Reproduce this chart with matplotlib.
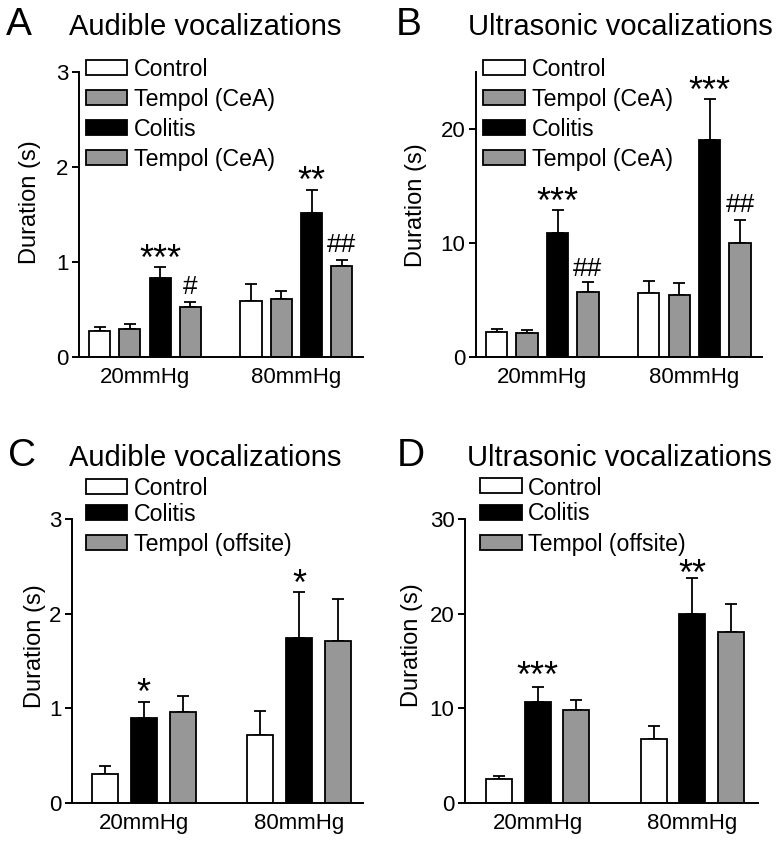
import matplotlib
matplotlib.use("Agg")
import matplotlib.pyplot as plt
from matplotlib.patches import Rectangle
import numpy as np

plt.rcParams['font.family'] = ['Liberation Sans', 'DejaVu Sans']

W, H = 779, 843
GRAY = '#979797'

groups = ['20mmHg', '80mmHg']

# Panel A: audible, CeA tempol
a_labels = ['Control', 'Tempol (CeA)', 'Colitis', 'Tempol (CeA)']
a_control = [0.27, 0.59]
a_tempol = [0.29, 0.61]
a_colitis = [0.83, 1.52]
a_tempol2 = [0.53, 0.96]
a_control_err = [0.05, 0.18]
a_tempol_err = [0.06, 0.09]
a_colitis_err = [0.12, 0.24]
a_tempol2_err = [0.05, 0.06]
a_sig_colitis = ['***', '**']
a_sig_tempol2 = ['#', '##']

# Panel B: ultrasonic, CeA tempol
b_control = [2.2, 5.6]
b_tempol = [2.1, 5.45]
b_colitis = [10.9, 19.0]
b_tempol2 = [5.7, 10.0]
b_control_err = [0.3, 1.1]
b_tempol_err = [0.3, 1.05]
b_colitis_err = [2.0, 3.6]
b_tempol2_err = [0.9, 2.0]
b_sig_colitis = ['***', '***']
b_sig_tempol2 = ['##', '##']

# Panel C: audible, offsite tempol
c_labels = ['Control', 'Colitis', 'Tempol (offsite)']
c_control = [0.31, 0.72]
c_colitis = [0.90, 1.74]
c_tempol = [0.96, 1.71]
c_control_err = [0.08, 0.25]
c_colitis_err = [0.17, 0.49]
c_tempol_err = [0.17, 0.45]
c_sig_colitis = ['*', '*']

# Panel D: ultrasonic, offsite tempol
d_control = [2.5, 6.8]
d_colitis = [10.7, 20.0]
d_tempol = [9.8, 18.1]
d_control_err = [0.35, 1.3]
d_colitis_err = [1.6, 3.8]
d_tempol_err = [1.1, 2.9]
d_sig_colitis = ['***', '**']

fig = plt.figure(figsize=(W / 100, H / 100), dpi=100)


def make_ax(left, right, top, bottom):
    return fig.add_axes([left / W, 1 - bottom / H, (right - left) / W, (bottom - top) / H])


def style(ax, ylim, yticks, xlim, group_centers, ylab_x, ylab_y):
    ax.set_ylim(*ylim)
    ax.set_xlim(*xlim)
    ax.set_yticks(yticks)
    ax.set_xticks(group_centers)
    ax.set_xticklabels(groups)
    for s in ['top', 'right']:
        ax.spines[s].set_visible(False)
    for s in ['left', 'bottom']:
        ax.spines[s].set_linewidth(1.4)
    ax.tick_params(axis='y', length=5, width=1.4, pad=2.5, labelsize=16)
    ax.tick_params(axis='x', length=0, pad=7, labelsize=16)
    ax.set_ylabel('Duration (s)', fontsize=17)
    ax.yaxis.label.set_va('center')
    ax.yaxis.set_label_coords(ylab_x, ylab_y)


def draw_bars(ax, pos_list, vals_list, errs_list, colors, width):
    for pos, vals, errs, col in zip(pos_list, vals_list, errs_list, colors):
        ax.errorbar(pos, vals, yerr=[np.zeros(len(vals)), errs], fmt='none',
                    ecolor='black', elinewidth=1.3, capsize=4.2, capthick=1.3, zorder=1)
        ax.bar(pos, vals, width=width, color=col, edgecolor='black', linewidth=1.3, zorder=2)


def sig(ax, xs, tops, labels, gaps):
    for x, t, lab, g in zip(xs, tops, labels, gaps):
        if lab.startswith('*'):
            ax.annotate(' '.join(lab) if False else lab, xy=(x, t), xytext=(0, g - 12),
                        textcoords='offset pixels', ha='center', va='baseline', fontsize=26)
        else:
            ax.annotate(lab, xy=(x, t), xytext=(0, g + 1), textcoords='offset pixels',
                        ha='center', va='baseline', fontsize=19)


def legend(px0, px1, tx, rows, labels, colors, ph=15):
    for yc, lab, col in zip(rows, labels, colors):
        fig.add_artist(Rectangle((px0 / W, 1 - (yc + ph / 2) / H), (px1 - px0) / W, ph / H,
                                 transform=fig.transFigure, facecolor=col, edgecolor='black',
                                 linewidth=1.3))
        fig.text(tx / W, 1 - (yc + 8.5) / H, lab, fontsize=16.7, ha='left', va='baseline')


def titles(lx, tx, base, letter, title):
    fig.text(lx / W, 1 - base / H, letter, fontsize=28, ha='left', va='baseline')
    fig.text(tx / W, 1 - base / H, title, fontsize=21, ha='left', va='baseline')


# ---------- Panel A ----------
pos4 = [np.array([0, 5]) + i for i in range(4)]
colors4 = ['white', GRAY, 'black', GRAY]
axA = make_ax(79, 363, 72, 357)
draw_bars(axA, pos4, [a_control, a_tempol, a_colitis, a_tempol2],
          [a_control_err, a_tempol_err, a_colitis_err, a_tempol2_err], colors4, 0.7)
style(axA, (0, 3), [0, 1, 2, 3], (-0.68, 8.7), [1.5, 6.5], -0.173, 0.544)
sig(axA, pos4[2], np.add(a_colitis, a_colitis_err), a_sig_colitis, [9, 10])
sig(axA, pos4[3], np.add(a_tempol2, a_tempol2_err), a_sig_tempol2, [7, 7])
legend(86, 127, 134, [67.5, 97.5, 127.5, 157.5], a_labels, colors4)
titles(6, 69, 35, 'A', 'Audible vocalizations')

# ---------- Panel B ----------
axB = make_ax(476, 762, 72, 357)
draw_bars(axB, pos4, [b_control, b_tempol, b_colitis, b_tempol2],
          [b_control_err, b_tempol_err, b_colitis_err, b_tempol2_err], colors4, 0.7)
style(axB, (0, 25), [0, 10, 20], (-0.68, 8.72), [1.5, 6.5], -0.21, 0.533)
sig(axB, pos4[2], np.add(b_colitis, b_colitis_err), b_sig_colitis, [9, 9])
sig(axB, pos4[3], np.add(b_tempol2, b_tempol2_err), b_sig_tempol2, [5, 7])
legend(483, 525, 532, [67.5, 97.5, 127.5, 157.5], a_labels, colors4)
titles(396, 468, 35, 'B', 'Ultrasonic vocalizations')

# ---------- Panel C ----------
pos3 = [np.array([0, 4]) + i for i in range(3)]
colors3 = ['white', 'black', GRAY]
axC = make_ax(72, 363, 519, 803)
draw_bars(axC, pos3, [c_control, c_colitis, c_tempol],
          [c_control_err, c_colitis_err, c_tempol_err], colors3, 0.67)
style(axC, (0, 3), [0, 1, 2, 3], (-0.85, 6.65), [1, 5], -0.127, 0.551)
sig(axC, pos3[1], np.add(c_colitis, c_colitis_err), c_sig_colitis, [10, 9])
legend(86, 127, 134, [486.5, 512.5, 542.5], c_labels, colors3)
titles(8, 69, 466, 'C', 'Audible vocalizations')

# ---------- Panel D ----------
axD = make_ax(465, 758, 519, 803)
draw_bars(axD, pos3, [d_control, d_colitis, d_tempol],
          [d_control_err, d_colitis_err, d_tempol_err], colors3, 0.67)
style(axD, (0, 30), [0, 10, 20, 30], (-0.88, 6.7), [1, 5], -0.181, 0.556)
sig(axD, pos3[1], np.add(d_colitis, d_colitis_err), d_sig_colitis, [12, 5])
legend(480, 522, 528, [486, 512, 542.5], c_labels, colors3)
titles(397, 467, 466, 'D', 'Ultrasonic vocalizations')

fig.savefig('out.png', dpi=100)
